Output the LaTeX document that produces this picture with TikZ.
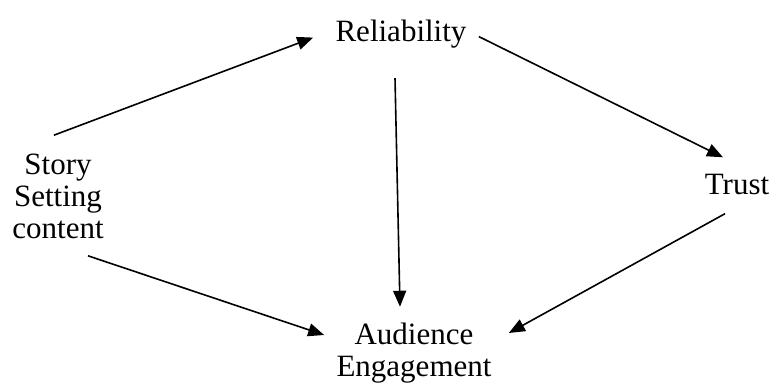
\documentclass[tikz,border=0pt]{standalone}
\usepackage{fontspec}
\setmainfont{Liberation Serif}
\usetikzlibrary{arrows.meta,positioning}
\tikzset{
        factor/.style = {inner sep=0pt, align=center,
            font=\fontsize{15.5}{15.75}\selectfont},
        link/.style = {draw, line width=0.8pt,
            -{Triangle[length=8pt,width=6.5pt]}},
    }
\begin{document}
\begin{tikzpicture}[x=0.5pt, y=-0.5pt]
		\useasboundingbox (0,0) rectangle (771,383);
		\node[factor, anchor=base] (Reliability) at (401,42) {Reliability};
		\node[factor, font=\fontsize{15.5}{16}\selectfont] (StorySetting) at (58,196) {Story\\Setting\\content};
		\node[factor, anchor=base] (Trust) at (737,195) {Trust};
		\node[factor]              (Engagement) at (414,353) {Audience\\Engagement};
		\path
		([xshift=-2pt,yshift=9pt]StorySetting.north) edge[link] ([xshift=-11pt,yshift=-1.5pt]Reliability.west)
		([xshift=6pt,yshift=-1pt]Reliability.east) edge[link] ([xshift=-7pt,yshift=8.5pt]Trust.north)
		([xshift=-3pt,yshift=-14.5pt]Reliability.south) edge[link] ([xshift=-7pt,yshift=8pt]Engagement.north)
		([xshift=15pt,yshift=-8.5pt]StorySetting.south) edge[link] ([xshift=-6pt,yshift=9pt]Engagement.west)
		([xshift=-6pt,yshift=-9pt]Trust.south) edge[link] ([xshift=8.5pt,yshift=10pt]Engagement.east);
\end{tikzpicture}
\end{document}
